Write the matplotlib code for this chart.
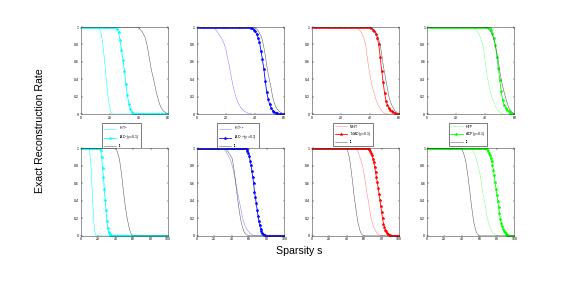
import numpy as np
import matplotlib
matplotlib.use("Agg")
import matplotlib.pyplot as plt

plt.rcParams['font.family'] = ['Liberation Sans', 'DejaVu Sans']

s_top = list(range(1, 61))
s_bot = list(range(1, 101))

# ---- top row (s = 1..60) ----
p1_iht = [1.0]*12 + [0.98,0.93,0.83,0.68,0.5,0.32,0.17,0.07,0.02] + [0.0]*39
p1_iad = [1.0]*24 + [0.98,0.94,0.85,0.74,0.62,0.5,0.35,0.22,0.12,0.06,0.02,0.01] + [0.0]*24
p1_l1 = [1.0]*39 + [0.99,0.97,0.95,0.92,0.89,0.83,0.75,0.65,0.55,0.47,0.4,0.32,0.24,0.18,0.12,0.08,0.05,0.03,0.02,0.01,0.0]

p2_iht = [1.0]*11 + [0.99,0.97,0.95,0.92,0.9,0.87,0.84,0.8,0.74,0.66,0.58,0.49,0.4,0.32,0.25,0.19,0.14,0.11,0.08,0.06,0.04,0.03,0.02,0.01,0.01,0.005] + [0.0]*23
p2_iad = [1.0]*36 + [0.995,0.99,0.97,0.95,0.92,0.88,0.83,0.73,0.63,0.52,0.38,0.25,0.17,0.11,0.07,0.04,0.025,0.015,0.008,0.003] + [0.0]*4
p2_l1 = [1.0]*39 + [0.99,0.98,0.96,0.93,0.9,0.85,0.77,0.67,0.56,0.46,0.38,0.3,0.2,0.14,0.09,0.06,0.04,0.025,0.015,0.005,0.0]

p3_iht = [1.0]*30 + [0.99,0.98,0.96,0.94,0.91,0.86,0.8,0.67,0.55,0.45,0.36,0.29,0.23,0.17,0.13,0.09,0.06,0.04,0.02,0.01,0.005] + [0.0]*9
p3_iad = [1.0]*40 + [0.99,0.97,0.95,0.92,0.88,0.8,0.66,0.5,0.37,0.24,0.15,0.1,0.07,0.045,0.03,0.02,0.01,0.005] + [0.0]*2
p3_l1 = [1.0]*41 + [0.98,0.96,0.94,0.91,0.86,0.8,0.69,0.57,0.47,0.38,0.29,0.2,0.14,0.1,0.07,0.04,0.025,0.01,0.0]

p4_iht = [1.0]*31 + [0.99,0.98,0.96,0.94,0.91,0.87,0.82,0.72,0.6,0.47,0.38,0.3,0.23,0.17,0.13,0.09,0.06,0.04,0.025,0.01,0.005] + [0.0]*8
p4_iad = [1.0]*42 + [0.99,0.97,0.93,0.87,0.79,0.66,0.53,0.39,0.26,0.16,0.1,0.07,0.045,0.03,0.015,0.008,0.003,0.0]
p4_l1 = [1.0]*41 + [0.98,0.96,0.94,0.91,0.85,0.79,0.7,0.61,0.49,0.4,0.32,0.25,0.19,0.13,0.08,0.05,0.03,0.015,0.0]

# ---- bottom row (s = 1..100) ----
p5_iht = [1.0]*9 + [0.98,0.9,0.77,0.56,0.35,0.17,0.06,0.01] + [0.0]*83
p5_iad = [1.0]*22 + [0.98,0.9,0.78,0.67,0.54,0.41,0.29,0.17,0.09,0.04,0.02,0.01,0.005] + [0.0]*65
p5_l1 = [1.0]*40 + [0.98,0.96,0.92,0.89,0.83,0.76,0.68,0.59,0.5,0.42,0.34,0.27,0.21,0.16,0.11,0.07,0.04,0.02,0.01,0.003] + [0.0]*40

p6_iht = [1.0]*30 + [0.99,0.98,0.97,0.95,0.93,0.92,0.9,0.88,0.85,0.82,0.79,0.74,0.69,0.64,0.59,0.53,0.48,0.43,0.38,0.33,0.28,0.22,0.18,0.15,0.12,0.1,0.08,0.065,0.05,0.04,0.03,0.02,0.015,0.01,0.005] + [0.0]*35
p6_iad = [1.0]*56 + [0.99,0.97,0.95,0.91,0.86,0.81,0.74,0.67,0.6,0.5,0.44,0.37,0.3,0.23,0.17,0.12,0.08,0.05,0.03,0.02,0.01,0.005,0.002] + [0.0]*21
p6_l1 = [1.0]*32 + [0.99,0.98,0.97,0.96,0.94,0.93,0.91,0.9,0.86,0.8,0.73,0.65,0.56,0.48,0.4,0.33,0.26,0.2,0.15,0.11,0.08,0.05,0.03,0.02,0.01,0.005] + [0.0]*42

p7_iht = [1.0]*50 + [0.99,0.98,0.96,0.93,0.9,0.87,0.84,0.8,0.75,0.7,0.64,0.58,0.5,0.44,0.39,0.32,0.26,0.2,0.16,0.13,0.1,0.08,0.06,0.04,0.03,0.02,0.015,0.01,0.005] + [0.0]*21
p7_iad = [1.0]*64 + [0.995,0.99,0.97,0.95,0.92,0.88,0.84,0.79,0.73,0.67,0.61,0.55,0.48,0.41,0.34,0.27,0.2,0.14,0.1,0.07,0.05,0.035,0.025,0.015,0.01,0.005,0.003] + [0.0]*9
p7_l1 = [1.0]*40 + [0.97,0.94,0.9,0.84,0.76,0.68,0.6,0.5,0.42,0.35,0.28,0.21,0.15,0.11,0.07,0.04,0.02,0.01] + [0.0]*42

p8_iht = [1.0]*51 + [0.99,0.97,0.95,0.92,0.89,0.86,0.82,0.78,0.74,0.69,0.63,0.56,0.49,0.44,0.39,0.33,0.27,0.21,0.17,0.13,0.1,0.08,0.06,0.04,0.03,0.02,0.015,0.01,0.005] + [0.0]*20
p8_iad = [1.0]*68 + [0.99,0.97,0.95,0.92,0.89,0.85,0.81,0.75,0.69,0.61,0.54,0.47,0.4,0.33,0.26,0.19,0.15,0.11,0.08,0.06,0.045,0.03,0.02,0.01,0.005,0.002] + [0.0]*6
p8_l1 = [1.0]*39 + [0.99,0.97,0.94,0.91,0.87,0.82,0.75,0.68,0.6,0.52,0.43,0.35,0.27,0.2,0.14,0.1,0.06,0.035,0.02,0.005] + [0.0]*41

labels = [
    ("IHT$^{0}$", "IAD$^{0}$($\\gamma$=0.1)"),
    ("IHT$^{1/2}$", "IAD$^{1/2}$($\\gamma$=0.1)"),
    ("NIHT", "NIAD($\\gamma$=0.1)"),
    ("HTP", "ADP($\\gamma$=0.1)"),
]
thin_colors = ["#00ffff", "#8080ff", "#ff8080", "#80ff80"]
mark_colors = ["#00ffff", "#0000ff", "#ff0000", "#00ff00"]
gray = "#555555"

top_data = [(p1_iht, p1_iad, p1_l1), (p2_iht, p2_iad, p2_l1),
            (p3_iht, p3_iad, p3_l1), (p4_iht, p4_iad, p4_l1)]
bot_data = [(p5_iht, p5_iad, p5_l1), (p6_iht, p6_iad, p6_l1),
            (p7_iht, p7_iad, p7_l1), (p8_iht, p8_iad, p8_l1)]

fig = plt.figure(figsize=(8, 4), dpi=72)
lefts = [0.140, 0.3415, 0.541, 0.741]
w = 0.152

def style(ax, xmax, xticks):
    ax.set_xlim(0, xmax)
    ax.set_ylim(0, 1)
    ax.set_xticks(xticks)
    ax.set_yticks([0, 0.2, 0.4, 0.6, 0.8, 1])
    ax.set_yticklabels(["0", "0.2", "0.4", "0.6", "0.8", "1"])
    ax.tick_params(direction='in', length=1.5, width=0.4, labelsize=3.5, pad=1.5,
                   top=True, right=True, colors='black')
    for sp in ax.spines.values():
        sp.set_linewidth(0.5)
        sp.set_color('#333333')

for i in range(4):
    ax = fig.add_axes([lefts[i], 0.604, w, 0.302])
    a, b, c = top_data[i]
    ax.plot(s_top, a, color=thin_colors[i], lw=0.5, label=labels[i][0])
    ax.plot(s_top, b, color=mark_colors[i], lw=0.8, marker='*', ms=3, mew=0.5,
            label=labels[i][1])
    ax.plot(s_top, c, color=gray, lw=0.5, label="l1")
    style(ax, 60, [0, 20, 40, 60])
    leg = ax.legend(loc='upper center', bbox_to_anchor=(0.47, -0.08), fontsize=3.5,
                    frameon=True, fancybox=False, edgecolor='black', framealpha=1,
                    handlelength=3.5, borderpad=0.5, labelspacing=0.5)
    leg.get_frame().set_linewidth(0.5)
    leg.set_zorder(10)

for i in range(4):
    ax = fig.add_axes([lefts[i], 0.181, w, 0.304])
    a, b, c = bot_data[i]
    ax.plot(s_bot, a, color=thin_colors[i], lw=0.5)
    ax.plot(s_bot, b, color=mark_colors[i], lw=0.8, marker='*', ms=3, mew=0.5)
    ax.plot(s_bot, c, color=gray, lw=0.5)
    style(ax, 100, [0, 20, 40, 60, 80, 100])

fig.text(0.07, 0.545, "Exact Reconstruction Rate", rotation=90, ha='center',
         va='center', fontsize=10.5)
fig.text(0.52, 0.13, "Sparsity s", ha='center', va='center', fontsize=10.5)

fig.savefig("out.png", dpi=72)
